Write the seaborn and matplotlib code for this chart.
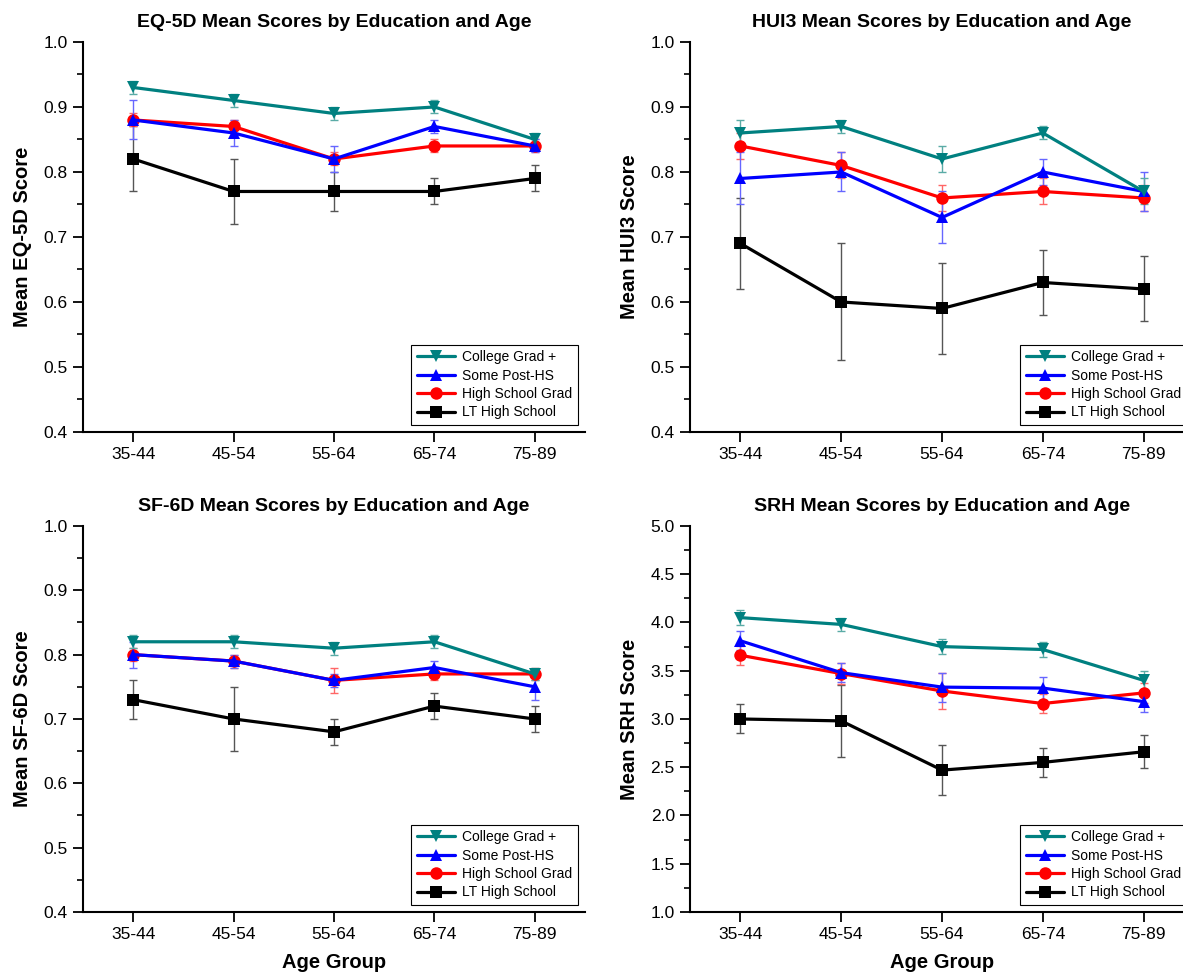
import numpy as np
import pandas as pd
import matplotlib
matplotlib.use("Agg")
import matplotlib.pyplot as plt
from matplotlib.ticker import MultipleLocator, FormatStrFormatter
import seaborn as sns

AGES = ["35-44", "45-54", "55-64", "65-74", "75-89"]
GROUPS = ["College Grad +", "Some Post-HS", "High School Grad", "LT High School"]

# EQ-5D
EQ5D_MEAN = {
    "College Grad +": [0.93, 0.91, 0.89, 0.90, 0.85],
    "Some Post-HS": [0.88, 0.86, 0.82, 0.87, 0.84],
    "High School Grad": [0.88, 0.87, 0.82, 0.84, 0.84],
    "LT High School": [0.82, 0.77, 0.77, 0.77, 0.79],
}
EQ5D_ERR = {
    "College Grad +": [0.01, 0.01, 0.01, 0.01, 0.01],
    "Some Post-HS": [0.03, 0.02, 0.02, 0.01, 0.01],
    "High School Grad": [0.01, 0.01, 0.01, 0.01, 0.01],
    "LT High School": [0.05, 0.05, 0.03, 0.02, 0.02],
}

# HUI3
HUI3_MEAN = {
    "College Grad +": [0.86, 0.87, 0.82, 0.86, 0.77],
    "Some Post-HS": [0.79, 0.80, 0.73, 0.80, 0.77],
    "High School Grad": [0.84, 0.81, 0.76, 0.77, 0.76],
    "LT High School": [0.69, 0.60, 0.59, 0.63, 0.62],
}
HUI3_ERR = {
    "College Grad +": [0.02, 0.01, 0.02, 0.01, 0.02],
    "Some Post-HS": [0.04, 0.03, 0.04, 0.02, 0.03],
    "High School Grad": [0.02, 0.02, 0.02, 0.02, 0.02],
    "LT High School": [0.07, 0.09, 0.07, 0.05, 0.05],
}

# SF-6D
SF6D_MEAN = {
    "College Grad +": [0.82, 0.82, 0.81, 0.82, 0.77],
    "Some Post-HS": [0.80, 0.79, 0.76, 0.78, 0.75],
    "High School Grad": [0.80, 0.79, 0.76, 0.77, 0.77],
    "LT High School": [0.73, 0.70, 0.68, 0.72, 0.70],
}
SF6D_ERR = {
    "College Grad +": [0.01, 0.01, 0.01, 0.01, 0.01],
    "Some Post-HS": [0.02, 0.01, 0.01, 0.01, 0.02],
    "High School Grad": [0.01, 0.01, 0.02, 0.01, 0.01],
    "LT High School": [0.03, 0.05, 0.02, 0.02, 0.02],
}

# SRH
SRH_MEAN = {
    "College Grad +": [4.05, 3.98, 3.75, 3.72, 3.40],
    "Some Post-HS": [3.81, 3.48, 3.33, 3.32, 3.18],
    "High School Grad": [3.66, 3.47, 3.29, 3.16, 3.27],
    "LT High School": [3.00, 2.98, 2.47, 2.55, 2.66],
}
SRH_ERR = {
    "College Grad +": [0.08, 0.07, 0.08, 0.08, 0.10],
    "Some Post-HS": [0.10, 0.10, 0.15, 0.12, 0.11],
    "High School Grad": [0.10, 0.11, 0.19, 0.10, 0.10],
    "LT High School": [0.15, 0.37, 0.26, 0.15, 0.17],
}

COLORS = {
    "College Grad +": "#008080",
    "Some Post-HS": "#0000ff",
    "High School Grad": "#ff0000",
    "LT High School": "#000000",
}
ERR_COLORS = {
    "College Grad +": "#5aaba6",
    "Some Post-HS": "#6666ff",
    "High School Grad": "#ff6666",
    "LT High School": "#555555",
}
MARKERS = {
    "College Grad +": "v",
    "Some Post-HS": "^",
    "High School Grad": "o",
    "LT High School": "s",
}


def make_frame(means, errs):
    rows = []
    for g in GROUPS:
        for age, m, e in zip(AGES, means[g], errs[g]):
            rows.append({"Age Group": age, "Education": g, "score": m, "err": e})
    return pd.DataFrame(rows)


def draw_panel(ax, df, title, ylabel, ylim, major, minor, xlabel=None):
    draw_order = GROUPS[::-1]  # teal ends up on top
    for g in draw_order:
        sub = df[df["Education"] == g]
        ax.errorbar(sub["Age Group"], sub["score"], yerr=sub["err"], fmt="none",
                    ecolor=ERR_COLORS[g], elinewidth=1, capsize=3, capthick=1, zorder=1)

    sns.lineplot(data=df, x="Age Group", y="score", hue="Education", style="Education",
                 hue_order=draw_order, style_order=draw_order, palette=COLORS,
                 markers=MARKERS, dashes=False, linewidth=2.3, markersize=9,
                 markeredgewidth=0, sort=False, ax=ax, zorder=3)

    leg = ax.get_legend()
    handles = list(leg.legend_handles)[::-1]
    labels = [t.get_text() for t in leg.get_texts()][::-1]
    leg.remove()
    for h in handles:
        h.set_linewidth(2.3)
        h.set_markersize(9)
        h.set_markeredgewidth(0)
    new_leg = ax.legend(handles, labels, loc="lower right", fontsize=10, frameon=True,
                        fancybox=False, framealpha=1, edgecolor="black", borderpad=0.4,
                        labelspacing=0.32, handlelength=2.8, handletextpad=0.5,
                        borderaxespad=0.5)
    new_leg.get_frame().set_linewidth(0.8)

    ax.set_xlim(-0.5, 4.5)
    ax.set_ylim(*ylim)
    ax.yaxis.set_major_locator(MultipleLocator(major))
    ax.yaxis.set_minor_locator(MultipleLocator(minor))
    ax.yaxis.set_major_formatter(FormatStrFormatter("%.1f"))

    ax.set_title(title, fontsize=14, fontweight="bold", pad=11)
    ax.set_ylabel(ylabel, fontsize=14.5, fontweight="bold", labelpad=8)
    ax.set_xlabel(xlabel if xlabel else "", fontsize=14.5, fontweight="bold", labelpad=8)

    ax.tick_params(axis="both", which="major", direction="out", length=7, width=1.3,
                   labelsize=12.5, color="black", labelcolor="black", pad=4)
    ax.tick_params(axis="y", which="minor", direction="out", length=4, width=1.2,
                   color="black")
    ax.tick_params(axis="x", which="minor", length=0)
    sns.despine(ax=ax)
    for side in ["left", "bottom"]:
        ax.spines[side].set_linewidth(1.5)
        ax.spines[side].set_color("black")


def main():
    sns.set_style("ticks")
    plt.rcParams["font.family"] = ["Liberation Sans", "DejaVu Sans"]
    plt.rcParams["text.color"] = "black"
    plt.rcParams["axes.labelcolor"] = "black"

    fig = plt.figure(figsize=(11.83, 9.76), dpi=100)
    ax1 = fig.add_axes([0.0702, 0.5574, 0.4243, 0.3996])
    ax2 = fig.add_axes([0.5833, 0.5574, 0.4260, 0.3996])
    ax3 = fig.add_axes([0.0702, 0.0656, 0.4243, 0.3955])
    ax4 = fig.add_axes([0.5833, 0.0656, 0.4260, 0.3955])

    draw_panel(ax1, make_frame(EQ5D_MEAN, EQ5D_ERR),
               "EQ-5D Mean Scores by Education and Age", "Mean EQ-5D Score",
               (0.4, 1.0), 0.1, 0.05)
    draw_panel(ax2, make_frame(HUI3_MEAN, HUI3_ERR),
               "HUI3 Mean Scores by Education and Age", "Mean HUI3 Score",
               (0.4, 1.0), 0.1, 0.05)
    draw_panel(ax3, make_frame(SF6D_MEAN, SF6D_ERR),
               "SF-6D Mean Scores by Education and Age", "Mean SF-6D Score",
               (0.4, 1.0), 0.1, 0.05, xlabel="Age Group")
    draw_panel(ax4, make_frame(SRH_MEAN, SRH_ERR),
               "SRH Mean Scores by Education and Age", "Mean SRH Score",
               (1.0, 5.0), 0.5, 0.25, xlabel="Age Group")

    fig.savefig("out.png", dpi=100, facecolor="white")
    plt.close(fig)


if __name__ == "__main__":
    main()
